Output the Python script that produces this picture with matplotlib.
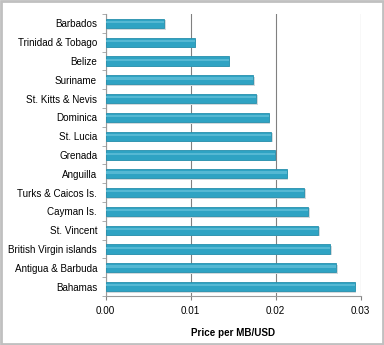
import matplotlib.pyplot as plt
from matplotlib.patches import Rectangle
import numpy as np

# Дані, зверху вниз
countries = ['Barbados', 'Trinidad & Tobago', 'Belize', 'Suriname', 'St. Kitts & Nevis',
             'Dominica', 'St. Lucia', 'Grenada', 'Anguilla', 'Turks & Caicos Is.',
             'Cayman Is.', 'St. Vincent', 'British Virgin islands', 'Antigua & Barbuda',
             'Bahamas']
prices = [0.0069, 0.0105, 0.0145, 0.0174, 0.0177,
          0.0192, 0.0195, 0.0199, 0.0213, 0.0234,
          0.0238, 0.0250, 0.0264, 0.0271, 0.0293]
x_ticks = [0.0, 0.01, 0.02, 0.03]
x_tick_labels = ['0.00', '0.01', '0.02', '0.03']

plt.rcParams['font.family'] = ['Liberation Sans', 'DejaVu Sans']

fig = plt.figure(figsize=(3.84, 3.45), dpi=100)
ax = fig.add_axes([105.5 / 384, 1 - 296 / 345, (360.5 - 105.5) / 384, (296 - 14) / 345])

y = np.arange(len(countries))
# тінь під смугами
ax.barh(y + 0.08, prices, height=0.5, left=0.0002, color='#d3d9dc', zorder=2)
ax.barh(y, prices, height=0.48, color='#2fa3c3', edgecolor='#2790ad', linewidth=0.6, zorder=3)
ax.barh(y - 0.07, prices, height=0.12, color='#55b8d3', linewidth=0, zorder=4)

ax.set_ylim(len(countries) - 0.5, -0.5)
ax.set_xlim(0, 0.03)
ax.set_yticks(y)
ax.set_yticklabels(countries, fontsize=7.1)
ax.set_yticks(np.arange(-0.5, len(countries), 1), minor=True)
ax.tick_params(axis='y', which='major', length=0, pad=6)
ax.tick_params(axis='y', which='minor', length=3, color='#a0a0a0', direction='out')

ax.set_xticks(x_ticks)
ax.set_xticklabels(x_tick_labels, fontsize=7.1)
ax.tick_params(axis='x', length=3, color='#808080', pad=4)
ax.xaxis.grid(True, color='#808080', linewidth=0.8)
ax.set_axisbelow(True)

ax.set_xlabel('Price per MB/USD', fontsize=7.1, fontweight='bold', labelpad=9)

for side in ['top', 'right']:
    ax.spines[side].set_visible(False)
for side in ['left', 'bottom']:
    ax.spines[side].set_color('#9a9a9a')
    ax.spines[side].set_linewidth(0.8)

# рамка навколо всього рисунка
fig.patches.append(Rectangle((0.002, 0.003), 0.995, 0.994, transform=fig.transFigure,
                             fill=False, edgecolor='#c0c0c0', linewidth=2))

fig.savefig('out.png', dpi=100)
